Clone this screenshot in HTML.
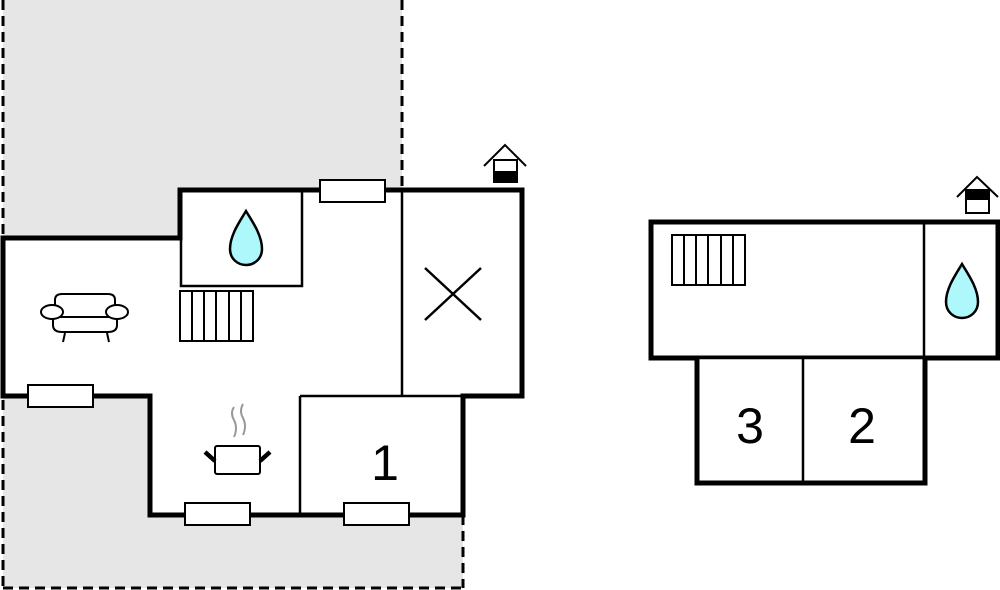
<!DOCTYPE html>
<html><head><meta charset="utf-8"><style>
html,body{margin:0;padding:0;background:#fff;width:1000px;height:590px;overflow:hidden}
svg{display:block}
text{font-family:"Liberation Sans",sans-serif}
</style></head><body>
<svg width="1000" height="590" viewBox="0 0 1000 590" xmlns="http://www.w3.org/2000/svg">
<defs>
<g id="drop"><path d="M0,0 C6,10 16,24 16,38 C16,48 8,54 0,54 C-8,54 -16,48 -16,38 C-16,24 -6,10 0,0 Z" fill="#aef8fc" stroke="#000" stroke-width="2.5"/></g>
</defs>
<polygon points="3,0 402,0 402,396 463,396 463,588 3,588" fill="#e6e6e6"/>
<g stroke="#000" stroke-width="3" stroke-dasharray="10,6" fill="none">
<line x1="3" y1="0" x2="3" y2="588"/>
<line x1="3" y1="588" x2="463" y2="588"/>
<line x1="402" y1="0" x2="402" y2="190"/>
<line x1="463" y1="515" x2="463" y2="588"/>
</g>
<polygon points="3,238 180,238 180,190 522,190 522,396 463,396 463,515 150,515 150,396 3,396" fill="#fff" stroke="#000" stroke-width="5"/>
<g stroke="#000" stroke-width="2.5" fill="none">
<rect x="181" y="191" width="121" height="95"/>
<line x1="402" y1="190" x2="402" y2="396"/>
<line x1="300" y1="396" x2="300" y2="515"/>
<line x1="300" y1="396" x2="463" y2="396"/>
<line x1="425" y1="268" x2="481" y2="320"/>
<line x1="481" y1="268" x2="425" y2="320"/>
</g>
<g fill="#fff" stroke="#000" stroke-width="2">
<rect x="320" y="180" width="65" height="22"/>
<rect x="28" y="385" width="65" height="22"/>
<rect x="185" y="503" width="65" height="22"/>
<rect x="344" y="503" width="65" height="22"/>
</g>
<use href="#drop" x="246" y="211"/>
<g stroke="#000" stroke-width="2" fill="none">
<rect x="180" y="291" width="73" height="50"/>
<line x1="192" y1="291" x2="192" y2="341"/><line x1="204" y1="291" x2="204" y2="341"/>
<line x1="216" y1="291" x2="216" y2="341"/><line x1="229" y1="291" x2="229" y2="341"/>
<line x1="241" y1="291" x2="241" y2="341"/>
</g>
<g stroke="#000" stroke-width="2" fill="#fff">
<path d="M55,305 L55,300 Q55,294 62,294 L108,294 Q115,294 115,300 L115,305"/>
<path d="M53,318 L53,325 Q53,332 62,332 L108,332 Q117,332 117,325 L117,318"/>
<line x1="60" y1="317" x2="110" y2="317"/>
<ellipse cx="52" cy="312" rx="11" ry="7"/>
<ellipse cx="117" cy="312" rx="11" ry="7"/>
<line x1="65" y1="333" x2="63" y2="342"/>
<line x1="107" y1="333" x2="109" y2="342"/>
</g>
<g stroke="#000" fill="#fff">
<rect x="215" y="446" width="45" height="28" rx="2" stroke-width="2"/>
<line x1="205" y1="452" x2="215" y2="461" stroke-width="4.5"/>
<line x1="270" y1="452" x2="260" y2="461" stroke-width="4.5"/>
</g>
<g stroke="#999" stroke-width="2" fill="none">
<path d="M234,407 Q230,413 234,420 Q238,428 234,437"/>
<path d="M243,404 Q239,411 243,418 Q247,426 243,435"/>
</g>
<text x="385" y="480" font-size="50" text-anchor="middle">1</text>
<g stroke="#000" stroke-width="2" fill="none">
<polyline points="484,166 505,145 526,166"/>
<rect x="494" y="160" width="23" height="22" fill="#fff"/>
</g>
<rect x="494" y="171" width="23" height="12" fill="#000"/>

<rect x="651" y="222" width="347" height="136" fill="#fff" stroke="#000" stroke-width="5"/>
<polyline points="697,358 697,483 925,483 925,358" fill="#fff" stroke="#000" stroke-width="5"/>
<g stroke="#000" stroke-width="2.5" fill="none">
<line x1="924" y1="222" x2="924" y2="358"/>
<line x1="697" y1="358" x2="925" y2="358"/>
<line x1="803" y1="358" x2="803" y2="483"/>
</g>
<g stroke="#000" stroke-width="2" fill="none">
<rect x="672" y="235" width="73" height="50"/>
<line x1="684" y1="235" x2="684" y2="285"/><line x1="696" y1="235" x2="696" y2="285"/>
<line x1="708" y1="235" x2="708" y2="285"/><line x1="721" y1="235" x2="721" y2="285"/>
<line x1="733" y1="235" x2="733" y2="285"/>
</g>
<use href="#drop" x="962" y="264"/>
<text x="750" y="443" font-size="50" text-anchor="middle">3</text>
<text x="862" y="443" font-size="50" text-anchor="middle">2</text>
<g stroke="#000" stroke-width="2" fill="none">
<polyline points="957,197 977,177 998,197"/>
<rect x="966" y="190" width="23" height="23" fill="#fff"/>
</g>
<rect x="966" y="190" width="23" height="10" fill="#000"/>
</svg>
</body></html>
